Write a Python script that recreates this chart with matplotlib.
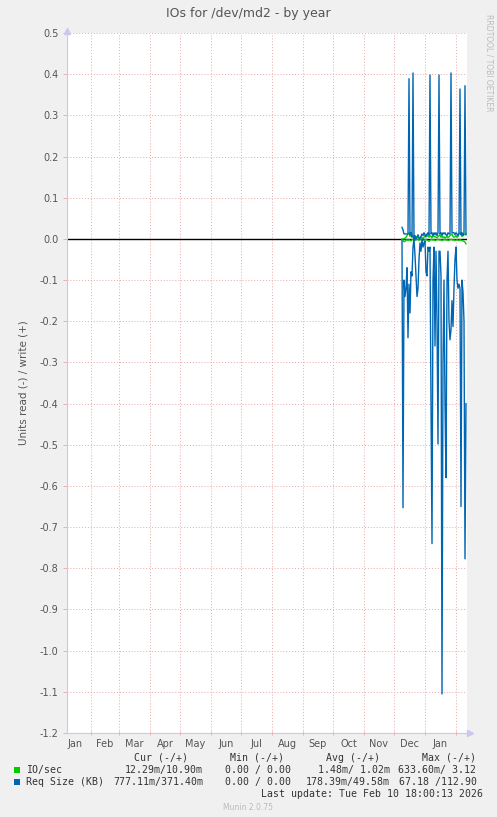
import numpy as np
import matplotlib
matplotlib.use('Agg')
import matplotlib.pyplot as plt

# day numbers counted from 2025-01-01, one sample per day
days = np.arange(342, 407)

req_write = [0.028, 0.022, 0.012, 0.012, 0.012, 0.012, 0.012, 0.389, 0.010, 0.015,
             0.005, 0.403, 0.0, 0.008, 0.0, 0.004, 0.010, 0.003, 0.0, 0.006,
             0.012, 0.008, 0.015, 0.010, 0.005, 0.012, 0.015, 0.010, 0.398, 0.012,
             0.015, 0.008, 0.015, 0.010, 0.015, 0.008, 0.015, 0.398, 0.012, 0.015,
             0.008, 0.015, 0.012, 0.015, 0.010, 0.008, 0.015, 0.012, 0.012, 0.403,
             0.015, 0.015, 0.015, 0.010, 0.015, 0.012, 0.008, 0.015, 0.364, 0.010,
             0.015, 0.008, 0.015, 0.372, 0.010]
req_read = [-0.005, -0.653, -0.10, -0.14, -0.12, -0.07, -0.24, -0.11, -0.18, -0.08,
            -0.09, -0.02, -0.0, -0.04, -0.09, -0.14, -0.12, -0.05, -0.01, -0.03,
            -0.0, -0.02, -0.01, -0.005, -0.08, -0.09, -0.02, -0.03, -0.02, -0.40,
            -0.74, -0.10, -0.02, -0.26, -0.03, -0.20, -0.498, -0.03, -0.03, -0.09,
            -1.105, -0.30, -0.10, -0.40, -0.58, -0.10, -0.03, -0.20, -0.245, -0.22,
            -0.15, -0.213, -0.12, -0.05, -0.02, -0.10, -0.12, -0.11, -0.12, -0.65,
            -0.10, -0.13, -0.20, -0.777, -0.40]
io_write = [0.0, 0.0, 0.0, 0.002, 0.004, 0.008, 0.012, 0.015, 0.006, 0.010,
            0.004, 0.008, 0.002, 0.0, 0.003, 0.006, 0.004, 0.0, 0.002, 0.005,
            0.003, 0.0, 0.004, 0.008, 0.010, 0.006, 0.012, 0.004, 0.008, 0.006,
            0.003, 0.010, 0.005, 0.006, 0.004, 0.003, 0.005, 0.008, 0.010, 0.004,
            0.006, 0.003, 0.005, 0.002, 0.004, 0.006, 0.003, 0.005, 0.008, 0.010,
            0.012, 0.006, 0.004, 0.005, 0.008, 0.004, 0.006, 0.012, 0.015, 0.010,
            0.006, 0.008, 0.012, 0.010, 0.013]
io_read = [-0.002, -0.004, -0.007, -0.006, -0.003, -0.002, -0.004, -0.002, -0.003, -0.005,
           -0.002, -0.001, -0.003, -0.004, -0.002, -0.001, -0.002, -0.003, -0.002, -0.001,
           -0.002, -0.004, -0.003, -0.002, -0.001, -0.003, -0.004, -0.006, -0.003, -0.002,
           -0.001, -0.003, -0.002, -0.004, -0.003, -0.002, -0.001, -0.002, -0.003, -0.002,
           -0.004, -0.003, -0.002, -0.001, -0.003, -0.002, -0.004, -0.003, -0.002, -0.001,
           -0.002, -0.003, -0.002, -0.004, -0.003, -0.002, -0.003, -0.004, -0.002, -0.003,
           -0.004, -0.005, -0.006, -0.008, -0.012]

month_starts = [31, 59, 90, 120, 151, 181, 212, 243, 273, 304, 334, 365, 396]
month_labels = ['Jan', 'Feb', 'Mar', 'Apr', 'May', 'Jun', 'Jul', 'Aug', 'Sep', 'Oct', 'Nov', 'Dec', 'Jan']
month_mid = [15.5, 45, 74.5, 105, 135.5, 166, 196.5, 227.5, 258, 288.5, 319, 349.5, 380.5]

W, H = 497, 817
fig = plt.figure(figsize=(W / 100, H / 100), dpi=100, facecolor='#F0F0F0')
ax = fig.add_axes([67 / W, 1 - 733 / H, 400 / W, 700 / H], facecolor='white')

x0, x1 = 7, 407
ax.set_xlim(x0, x1)
ax.set_ylim(-1.2, 0.5)

grid_kw = dict(color='#E8A8A8', linewidth=0.7, linestyle=(0, (1, 2)), zorder=1)
for yv in np.arange(-1.2, 0.51, 0.1):
    ax.axhline(yv, **grid_kw)
for m in month_starts:
    ax.axvline(m, **grid_kw)

ax.axhline(0, color='black', linewidth=1.0, zorder=2)

ax.plot(days, io_write, color='#00CC00', linewidth=1.0, zorder=3)
ax.plot(days, io_read, color='#00CC00', linewidth=1.0, zorder=3)
ax.plot(days, req_write, color='#0066B3', linewidth=1.0, zorder=4)
ax.plot(days, req_read, color='#0066B3', linewidth=1.0, zorder=4)

for s in ['top', 'right']:
    ax.spines[s].set_visible(False)
for s in ['left', 'bottom']:
    ax.spines[s].set_color('#C8C8F0')
    ax.spines[s].set_linewidth(0.8)
    ax.spines[s].set_zorder(5)

ax.set_yticks(np.round(np.arange(-1.2, 0.51, 0.1), 1))
ax.set_yticklabels(['%.1f' % v for v in np.round(np.arange(-1.2, 0.51, 0.1), 1)])
ax.set_xticks(month_starts)
ax.set_xticklabels([])
ax.set_xticks(month_mid, minor=True)
ax.set_xticklabels(month_labels, minor=True)
ax.tick_params(axis='y', length=3, width=0.6, color='#E8A8A8', labelsize=7, labelcolor='#555555', pad=3)
ax.tick_params(axis='x', which='major', length=3, width=0.6, color='#E8A8A8', direction='inout')
ax.tick_params(axis='x', which='minor', length=0, labelsize=7, labelcolor='#555555', pad=4)

# axis arrows
ax.plot([x1 + 3], [-1.2], marker='>', color='#C8C8F0', markersize=5, clip_on=False, zorder=6)
ax.plot([x0], [0.5 + 0.006], marker='^', color='#C8C8F0', markersize=5, clip_on=False, zorder=6)

ax.set_ylabel('Units read (-) / write (+)', fontsize=7.5, color='#555555', labelpad=8)

fig.text(248 / W, 1 - 14 / H, 'IOs for /dev/md2 - by year', ha='center', va='center',
         fontsize=9, color='#555555')
fig.text(489 / W, 1 - 14 / H, 'RRDTOOL / TOBI OETIKER', rotation=-90, ha='center', va='top',
         fontsize=5.5, color='#BBBBBB')

mono = dict(family='DejaVu Sans Mono', fontsize=7.1, color='#333333', va='center')

def ft(x, y, s, **kw):
    d = dict(mono)
    d.update(kw)
    fig.text(x / W, 1 - y / H, s, **d)

ft(161, 758, 'Cur (-/+)', ha='center')
ft(257, 758, 'Min (-/+)', ha='center')
ft(353, 758, 'Avg (-/+)', ha='center')
ft(449, 758, 'Max (-/+)', ha='center')

fig.patches.append(plt.Rectangle((14 / W, 1 - 773 / H), 6 / W, 6 / H, transform=fig.transFigure,
                                 facecolor='#00CC00', edgecolor='none'))
fig.patches.append(plt.Rectangle((14 / W, 1 - 785 / H), 6 / W, 6 / H, transform=fig.transFigure,
                                 facecolor='#0066B3', edgecolor='none'))

ft(26, 770, 'IO/sec', ha='left')
ft(203, 770, '12.29m/10.90m', ha='right')
ft(291, 770, '0.00 / 0.00', ha='right')
ft(390, 770, '1.48m/ 1.02m', ha='right')
ft(476, 770, '633.60m/ 3.12', ha='right')

ft(26, 782, 'Req Size (KB)', ha='left')
ft(203, 782, '777.11m/371.40m', ha='right')
ft(291, 782, '0.00 / 0.00', ha='right')
ft(390, 782, '178.39m/49.58m', ha='right')
ft(477, 782, '67.18 /112.90', ha='right')

ft(483, 794, 'Last update: Tue Feb 10 18:00:13 2026', ha='right')
fig.text(248 / W, 1 - 808 / H, 'Munin 2.0.75', ha='center', va='center', fontsize=5.5, color='#BBBBBB')

fig.savefig('out.png', dpi=100, facecolor=fig.get_facecolor())
